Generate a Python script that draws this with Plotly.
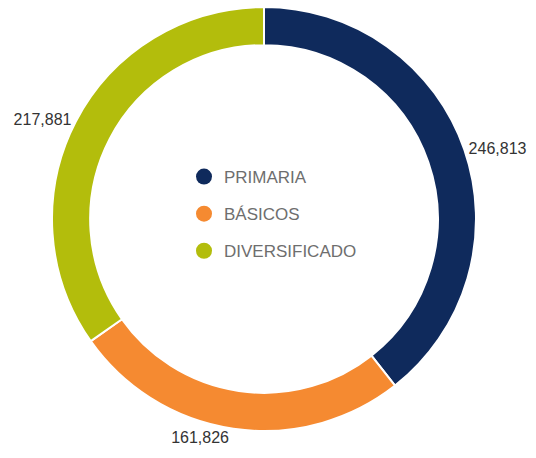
import plotly.graph_objects as go

categories = ["PRIMARIA", "BÁSICOS", "DIVERSIFICADO"]
values = [246813, 161826, 217881]
colors = ["#0f2a5c", "#f58a31", "#b3bd0c"]

W, H = 536, 458
fig = go.Figure()
fig.add_trace(go.Pie(
    labels=categories,
    values=values,
    hole=0.82,
    sort=False,
    direction="clockwise",
    rotation=0,
    marker=dict(colors=colors, line=dict(color="white", width=2)),
    textposition="outside",
    texttemplate="%{value:,}",
    textfont=dict(family="Liberation Sans, Arial", size=16, color="#333333"),
    showlegend=False,
    hoverinfo="label+value",
    domain=dict(x=[52/W, 476/W], y=[27/H, 451/H]),
))

for i, (c, col) in enumerate(zip(categories, colors)):
    fig.add_trace(go.Scatter(
        x=[None], y=[None], mode="markers", name=c,
        legendgroup=f"g{i}",
        marker=dict(symbol="circle", size=20, color=col),
        hoverinfo="skip",
    ))

fig.update_layout(
    width=W, height=H,
    margin=dict(l=0, r=0, t=0, b=0),
    paper_bgcolor="white", plot_bgcolor="white",
    xaxis=dict(visible=False), yaxis=dict(visible=False),
    legend=dict(
        x=184/W, y=1-159/H, xanchor="left", yanchor="top",
        font=dict(family="Liberation Sans, Arial", size=17, color="#6e6e6e"),
        bgcolor="rgba(0,0,0,0)", tracegroupgap=12,
        itemsizing="trace",
    ),
)

fig.write_html(
    "out.html",
    config={"displayModeBar": False},
    post_script="document.body.style.margin='0';document.body.style.overflow='hidden';",
)
